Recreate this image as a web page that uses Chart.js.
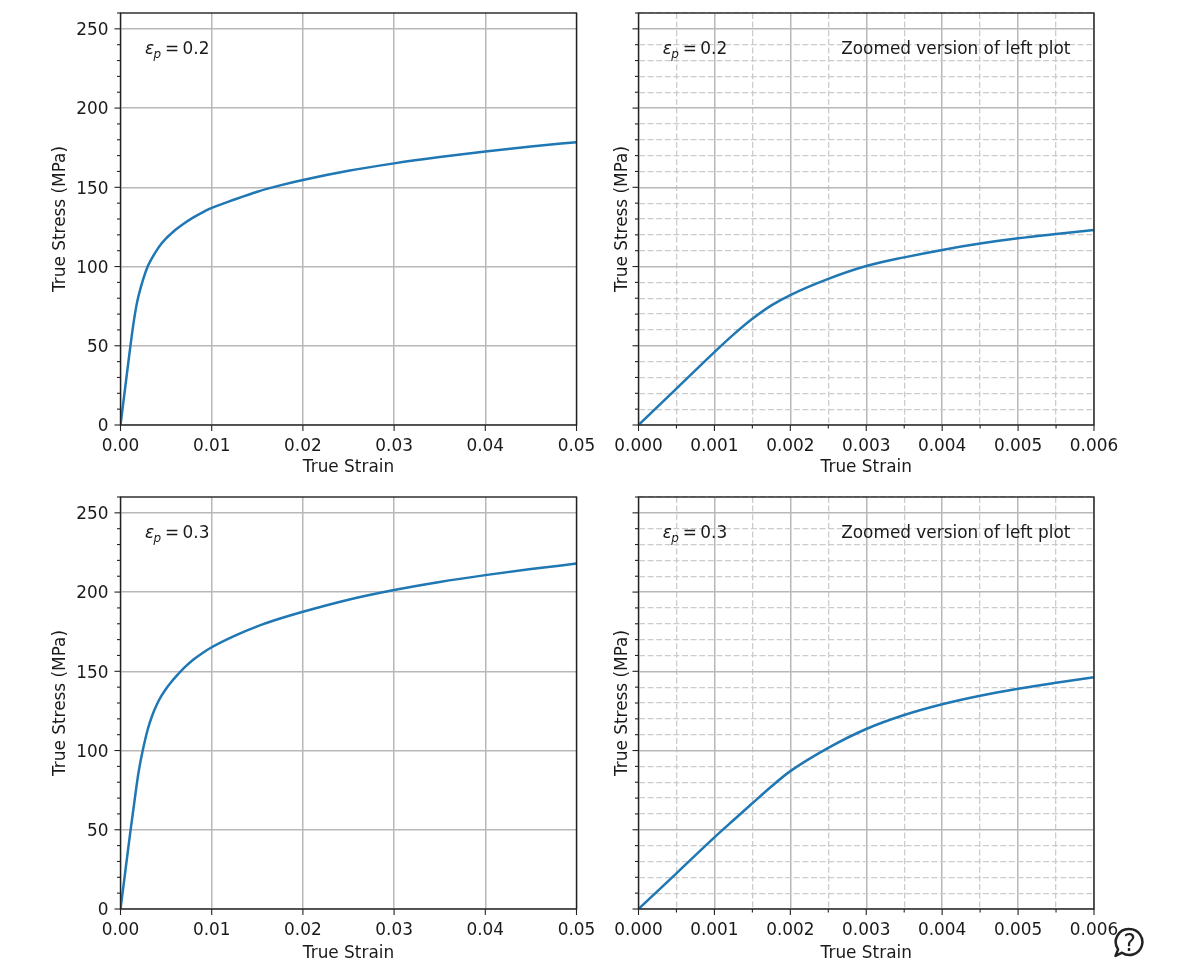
<!DOCTYPE html>
<html>
<head>
<meta charset="utf-8">
<script src="https://cdn.jsdelivr.net/npm/chart.js@4"></script>
<style>
  html, body { margin: 0; padding: 0; background: #fff; }
  canvas { position: absolute; }
  #help { position: absolute; left: 1113px; top: 927px; }
</style>
</head>
<body>
<canvas id="c1" style="left:0;top:0"></canvas>
<canvas id="c2" style="left:600px;top:0"></canvas>
<canvas id="c3" style="left:0;top:485px"></canvas>
<canvas id="c4" style="left:600px;top:485px"></canvas>
<svg id="help" width="32" height="32" viewBox="0 0 32 32">
  <path d="M16.5 2a13 13 0 1 1-7.5 23.7L2.5 29l2.6-6.6A13 13 0 0 1 16.5 2z" fill="#fff" stroke="#222" stroke-width="2.5" stroke-linejoin="round"/>
  <text x="16.5" y="24" font-family="DejaVu Sans" font-size="24" text-anchor="middle" fill="#222">?</text>
</svg>
<script>
var strain = [0, 0.0005, 0.001, 0.00125, 0.0015, 0.00175, 0.002, 0.0025, 0.003, 0.0035, 0.004, 0.0045, 0.005, 0.0055, 0.006,
  0.007, 0.008, 0.009, 0.01, 0.0125, 0.015, 0.0175, 0.02, 0.025, 0.03, 0.035, 0.04, 0.045, 0.05];
var stress02 = [0, 23, 46, 57, 67, 75.5, 82, 92.2, 100.3, 105.8, 110.5, 114.5, 117.8, 120.5, 123,
  127.3, 131, 134.2, 137, 142.3, 147.2, 151.2, 154.6, 160.4, 165.1, 169.1, 172.6, 175.7, 178.5];
var stress03 = [0, 22.5, 45.2, 56, 66.7, 77.3, 87, 101.7, 113.6, 122.4, 129.2, 134.6, 139, 142.8, 146.2,
  152.3, 157.4, 161.6, 165.2, 172.4, 178.4, 183.3, 187.6, 195.2, 201.3, 206.4, 210.7, 214.5, 218];

var yTicks = [0, 10, 20, 30, 40, 50, 60, 70, 80, 90, 100, 110, 120, 130, 140, 150, 160, 170, 180, 190, 200, 210, 220, 230, 240, 250, 260];
var xTicksWide = [0, 0.01, 0.02, 0.03, 0.04, 0.05];
var xTicksZoom = [0, 0.0005, 0.001, 0.0015, 0.002, 0.0025, 0.003, 0.0035, 0.004, 0.0045, 0.005, 0.0055, 0.006];

var FONT = "'DejaVu Sans'";
var DARK = "#1a1a1a";
var SIZE = 16.9;

function isMajorY(v) { return v % 50 === 0 && v <= 250; }
function isMajorX(v) { return Math.round(v * 10000) % 10 === 0; }

// draws ticks, the frame and the text labels
var panelPlugin = {
  id: "panel",
  afterDraw: function (chart, args, opts) {
    var ctx = chart.ctx, a = chart.chartArea, xs = chart.scales.x, ys = chart.scales.y;
    ctx.save();
    ctx.strokeStyle = "#222";
    ctx.lineWidth = 1.1;
    xs.ticks.forEach(function (t) {
      var p = xs.getPixelForValue(t.value), len = isMajorX(t.value) ? 6 : 3.5;
      ctx.beginPath(); ctx.moveTo(p, a.bottom); ctx.lineTo(p, a.bottom + len); ctx.stroke();
    });
    ys.ticks.forEach(function (t) {
      var p = ys.getPixelForValue(t.value), len = isMajorY(t.value) ? 6 : 3.5;
      ctx.beginPath(); ctx.moveTo(a.left, p); ctx.lineTo(a.left - len, p); ctx.stroke();
    });
    ctx.lineWidth = 1.4;
    ctx.strokeRect(a.left, a.top, a.right - a.left, a.bottom - a.top);

    var tx = xs.getPixelForValue(opts.labelX), ty = ys.getPixelForValue(234);
    ctx.fillStyle = DARK;
    ctx.textAlign = "left";
    ctx.textBaseline = "alphabetic";
    ctx.font = "italic " + SIZE + "px " + FONT;
    ctx.fillText("ε", tx, ty);
    ctx.font = "italic 12px " + FONT;
    ctx.fillText("p", tx + 8.5, ty + 4);
    ctx.font = SIZE + "px " + FONT;
    ctx.fillText("=", tx + 20, ty);
    ctx.fillText(opts.eps, tx + 37.5, ty);
    if (opts.zoomNote) {
      ctx.fillText("Zoomed version of left plot", xs.getPixelForValue(0.00267), ty);
    }
    ctx.restore();
  }
};

function makePanel(id, stress, eps, zoomed, canvasH, plotTop, plotBottom) {
  var el = document.getElementById(id);
  el.width = 600;
  el.height = canvasH;
  el.style.width = "600px";
  el.style.height = canvasH + "px";
  var plotLeft = zoomed ? 38.5 : 120.5;
  var plotRight = zoomed ? 494 : 576.5;
  var xTickList = zoomed ? xTicksZoom : xTicksWide;

  new Chart(el, {
    type: "line",
    data: {
      datasets: [{
        data: strain.map(function (s, i) { return { x: s, y: stress[i] }; }),
        borderColor: "#1f77b4",
        borderWidth: 2.5,
        pointRadius: 0,
        cubicInterpolationMode: "monotone"
      }]
    },
    plugins: [panelPlugin],
    options: {
      responsive: false,
      animation: false,
      layout: { padding: { left: 0, top: plotTop, right: 600 - plotRight, bottom: 0 } },
      plugins: {
        legend: { display: false },
        tooltip: { enabled: false },
        panel: { eps: eps, labelX: zoomed ? 0.00032 : 0.0027, zoomNote: zoomed }
      },
      scales: {
        x: {
          type: "linear",
          min: 0,
          max: zoomed ? 0.006 : 0.05,
          afterBuildTicks: function (s) { s.ticks = xTickList.map(function (v) { return { value: v }; }); },
          afterFit: function (s) { s.height = canvasH - plotBottom; s.paddingLeft = 0; s.paddingRight = 0; },
          ticks: {
            autoSkip: false, maxRotation: 0, minRotation: 0, padding: 11, color: DARK,
            font: { family: FONT, size: SIZE },
            callback: function (v) {
              if (!isMajorX(v)) return "";
              return zoomed ? v.toFixed(3) : (v === 0 ? "0.00" : v.toFixed(2));
            }
          },
          grid: {
            drawTicks: false,
            color: function (c) { return c.tick && isMajorX(c.tick.value) ? "#b8b8b8" : (zoomed ? "#cccccc" : "transparent"); },
            lineWidth: function (c) { return c.tick && isMajorX(c.tick.value) ? 1.5 : 1.3; }
          },
          border: {
            display: false,
            dash: function (c) { return c.tick && isMajorX(c.tick.value) ? [] : [6, 2.6]; }
          },
          title: { display: true, text: "True Strain", color: DARK, font: { family: FONT, size: SIZE }, padding: { top: 2, bottom: 7 } }
        },
        y: {
          type: "linear",
          min: 0,
          max: 260,
          afterBuildTicks: function (s) { s.ticks = yTicks.map(function (v) { return { value: v }; }); },
          afterFit: function (s) { s.width = plotLeft; s.paddingTop = 0; s.paddingBottom = 0; },
          ticks: {
            autoSkip: false, padding: 12, labelOffset: 2, color: DARK,
            font: { family: FONT, size: SIZE },
            callback: function (v) { return !zoomed && isMajorY(v) ? String(v) : ""; }
          },
          grid: {
            drawTicks: false,
            color: function (c) { return c.tick && isMajorY(c.tick.value) ? "#b8b8b8" : (zoomed ? "#cccccc" : "transparent"); },
            lineWidth: function (c) { return c.tick && isMajorY(c.tick.value) ? 1.5 : 1.3; }
          },
          border: {
            display: false,
            dash: function (c) { return c.tick && isMajorY(c.tick.value) ? [] : [6, 2.6]; }
          },
          title: { display: true, text: "True Stress (MPa)", color: DARK, font: { family: FONT, size: SIZE }, padding: { top: zoomed ? 12.5 : 50.5, bottom: 0 } }
        }
      }
    }
  });
}

makePanel("c1", stress02, "0.2", false, 485, 13, 425);
makePanel("c2", stress02, "0.2", true, 485, 13, 425);
makePanel("c3", stress03, "0.3", false, 486, 12, 424);
makePanel("c4", stress03, "0.3", true, 486, 12, 424);
</script>
</body>
</html>
